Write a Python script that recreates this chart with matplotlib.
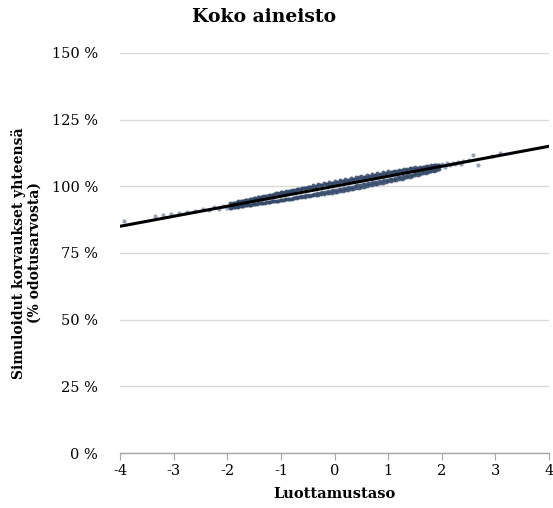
import matplotlib
matplotlib.use("Agg")
import matplotlib.pyplot as plt

plt.rcParams['font.family'] = ['DejaVu Serif']

# Regression line endpoints (Luottamustaso, %)
line_x = [-4, 4]
line_y = [85.0, 115.0]

# Sparse outer points
sparse_x = [-3.92, -3.35, -3.2, -3.05, -2.9, -2.75, -2.6, -2.45, -2.35, -2.25, -2.15, -2.08, -2.0,
            2.0, 2.05, 2.1, 2.15, 2.2, 2.25, 2.3, 2.35, 2.4, 2.5, 2.58, 2.67, 2.93, 3.08]
sparse_y = [87.0, 88.9, 89.3, 89.6, 89.9, 90.3, 90.8, 91.5, 91.2, 92.1, 91.6, 92.5, 92.0,
            108.4, 107.3, 108.6, 107.8, 108.9, 108.2, 109.1, 108.5, 109.5, 109.9, 111.6, 108.1, 111.5, 112.6]

# Dense band points (outer rows)
band_x = [-1.95, -1.9, -1.85, -1.8, -1.75, -1.7, -1.65, -1.6, -1.55, -1.5, -1.45, -1.4, -1.35, -1.3,
          -1.25, -1.2, -1.15, -1.1, -1.05, -1.0, -0.95, -0.9, -0.85, -0.8, -0.75, -0.7, -0.65, -0.6,
          -0.55, -0.5, -0.45, -0.4, -0.35, -0.3, -0.25, -0.2, -0.15, -0.1, -0.05, 0.0, 0.05, 0.1,
          0.15, 0.2, 0.25, 0.3, 0.35, 0.4, 0.45, 0.5, 0.55, 0.6, 0.65, 0.7, 0.75, 0.8, 0.85, 0.9,
          0.95, 1.0, 1.05, 1.1, 1.15, 1.2, 1.25, 1.3, 1.35, 1.4, 1.45, 1.5, 1.55, 1.6, 1.65, 1.7,
          1.75, 1.8, 1.85, 1.9, 1.95]
band_upper = [93.6, 93.9, 93.8, 94.4, 94.3, 94.6, 94.9, 94.8, 95.3, 95.5, 95.4, 96.0, 95.9, 96.4,
              96.3, 96.9, 96.8, 97.3, 97.2, 97.8, 97.6, 98.2, 98.1, 98.6, 98.5, 99.1, 98.9, 99.5,
              99.4, 99.9, 99.8, 100.3, 100.2, 100.7, 100.6, 101.1, 101.0, 101.5, 101.3, 101.9, 101.7, 102.2,
              102.1, 102.6, 102.5, 103.0, 102.9, 103.4, 103.3, 103.8, 103.6, 104.1, 104.0, 104.5, 104.4, 104.8,
              104.7, 105.2, 105.1, 105.6, 105.4, 105.9, 105.8, 106.2, 106.1, 106.6, 106.4, 106.9, 106.7, 107.1,
              107.0, 107.4, 107.3, 107.6, 107.5, 107.9, 107.8, 108.1, 108.0]
band_lower = [91.9, 92.1, 92.3, 92.4, 92.6, 92.7, 92.9, 93.0, 93.1, 93.3, 93.4, 93.6, 93.7, 93.9,
              94.0, 94.2, 94.3, 94.5, 94.6, 94.8, 94.9, 95.1, 95.2, 95.4, 95.5, 95.7, 95.8, 96.0,
              96.1, 96.3, 96.4, 96.6, 96.7, 96.9, 97.0, 97.2, 97.3, 97.5, 97.6, 97.9, 98.0, 98.2,
              98.3, 98.6, 98.7, 98.9, 99.1, 99.3, 99.5, 99.7, 99.9, 100.1, 100.3, 100.5, 100.7, 100.9,
              101.1, 101.3, 101.5, 101.8, 102.0, 102.2, 102.4, 102.7, 102.9, 103.1, 103.4, 103.6, 103.8, 104.1,
              104.3, 104.6, 104.8, 105.1, 105.3, 105.6, 105.8, 106.1, 106.3]

# Dense band points (inner rows, interleaved)
inner_x = [-1.925, -1.875, -1.825, -1.775, -1.725, -1.675, -1.625, -1.575, -1.525, -1.475,
           -1.425, -1.375, -1.325, -1.275, -1.225, -1.175, -1.125, -1.075, -1.025, -0.975,
           -0.925, -0.875, -0.825, -0.775, -0.725, -0.675, -0.625, -0.575, -0.525, -0.475,
           -0.425, -0.375, -0.325, -0.275, -0.225, -0.175, -0.125, -0.075, -0.025, 0.025,
           0.075, 0.125, 0.175, 0.225, 0.275, 0.325, 0.375, 0.425, 0.475, 0.525,
           0.575, 0.625, 0.675, 0.725, 0.775, 0.825, 0.875, 0.925, 0.975, 1.025,
           1.075, 1.125, 1.175, 1.225, 1.275, 1.325, 1.375, 1.425, 1.475, 1.525,
           1.575, 1.625, 1.675, 1.725, 1.775, 1.825, 1.875, 1.925]
inner_upper = [93.5, 93.8, 94.0, 94.2, 94.4, 94.7, 94.9, 95.1, 95.3, 95.6,
               95.8, 96.0, 96.2, 96.5, 96.7, 96.9, 97.1, 97.3, 97.5, 97.7,
               97.9, 98.0, 98.3, 98.4, 98.7, 98.8, 99.1, 99.2, 99.4, 99.6,
               99.8, 99.9, 100.2, 100.3, 100.5, 100.7, 100.9, 101.0, 101.3, 101.4,
               101.6, 101.8, 102.0, 102.1, 102.4, 102.5, 102.7, 102.9, 103.1, 103.2,
               103.4, 103.6, 103.8, 103.9, 104.1, 104.3, 104.5, 104.6, 104.8, 105.0,
               105.2, 105.3, 105.5, 105.7, 105.9, 106.0, 106.2, 106.3, 106.5, 106.6,
               106.8, 107.0, 107.1, 107.3, 107.4, 107.6, 107.8, 107.9]
inner_lower = [92.0, 92.2, 92.3, 92.5, 92.7, 92.8, 93.0, 93.1, 93.3, 93.4,
               93.6, 93.7, 93.9, 94.0, 94.2, 94.3, 94.5, 94.6, 94.8, 94.9,
               95.1, 95.2, 95.4, 95.5, 95.8, 95.9, 96.2, 96.3, 96.6, 96.7,
               96.9, 97.1, 97.3, 97.5, 97.7, 97.9, 98.1, 98.3, 98.5, 98.7,
               98.9, 99.1, 99.3, 99.5, 99.7, 99.9, 100.1, 100.3, 100.5, 100.7,
               100.9, 101.1, 101.3, 101.5, 101.7, 101.9, 102.1, 102.3, 102.5, 102.7,
               102.9, 103.1, 103.3, 103.5, 103.7, 103.9, 104.1, 104.3, 104.6, 104.8,
               105.0, 105.2, 105.4, 105.6, 105.8, 106.0, 106.2, 106.4]

x_ticks = [-4, -3, -2, -1, 0, 1, 2, 3, 4]
y_ticks = [0, 25, 50, 75, 100, 125, 150]
y_tick_labels = ["0 %", "25 %", "50 %", "75 %", "100 %", "125 %", "150 %"]

fig = plt.figure(figsize=(5.53, 5.08), dpi=100)
ax = fig.add_axes([0.217, 0.108, 0.776, 0.788])

pt_color = "#34496a"
for xs, ys in [(band_x, band_upper), (band_x, band_lower),
               (inner_x, inner_upper), (inner_x, inner_lower)]:
    ax.scatter(xs, ys, s=8, color=pt_color, alpha=0.85, linewidths=0, zorder=3)
ax.scatter(sparse_x, sparse_y, s=9, color="#5a7398", alpha=0.65, linewidths=0, zorder=3)
ax.plot(line_x, line_y, color="black", linewidth=2.2, zorder=4, solid_capstyle="butt")

ax.set_xlim(-4, 4)
ax.set_ylim(0, 150)
ax.set_xticks(x_ticks)
ax.set_xticklabels([str(v) for v in x_ticks])
ax.set_yticks(y_ticks)
ax.set_yticklabels(y_tick_labels)

ax.grid(axis='y', color="#d9d9d9", linewidth=1.0)
ax.set_axisbelow(True)
for s in ['left', 'right', 'top']:
    ax.spines[s].set_visible(False)
ax.spines['bottom'].set_color("#a6a6a6")
ax.spines['bottom'].set_linewidth(1.0)
ax.tick_params(axis='x', direction='out', length=5, color="#a6a6a6", labelsize=10.5, pad=3)
ax.tick_params(axis='y', length=0, labelsize=10.5, pad=16)

fig.text(0.477, 0.966, "Koko aineisto", fontsize=13.5, fontweight='bold',
         ha='center', va='center')
ax.set_xlabel("Luottamustaso", fontsize=10.5, fontweight='bold', labelpad=6)
ax.set_ylabel("Simuloidut korvaukset yhteensä\n(% odotusarvosta)", fontsize=10,
              fontweight='bold', labelpad=7)

fig.savefig("out.png", dpi=100)
